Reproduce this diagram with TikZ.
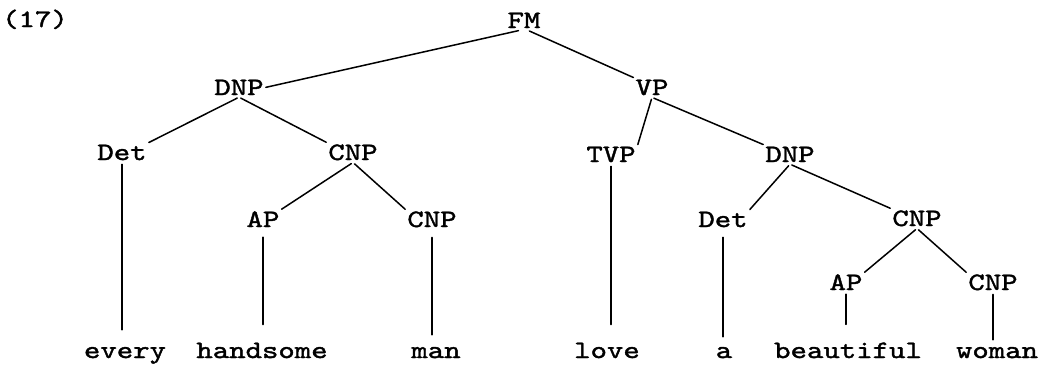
\documentclass[tikz,border=0pt]{standalone}
\usepackage{fontspec}
\newfontfamily\treefont{lmmono10-regular.otf}[FakeStretch=1.25,FakeBold=1.6]
\begin{document}
\begin{tikzpicture}[x=1pt,y=-1pt,
  lab/.style={font=\treefont\fontsize{25}{30}\selectfont, inner sep=2pt, anchor=base},
  edge/.style={line width=1.5pt, line cap=round, shorten <=2pt},
]
\useasboundingbox (0,0) rectangle (1041,367);
% labels
\node[lab] (n17) at (35,27) {(17)};
\node[lab] (FM) at (524,28) {FM};
\node[lab] (DNPa) at (239,95) {DNP};
\node[lab] (VP) at (652,95) {VP};
\node[lab] (Deta) at (122,160) {Det};
\node[lab] (CNPa) at (353,160) {CNP};
\node[lab] (TVP) at (611,162) {TVP};
\node[lab] (DNPb) at (790,162) {DNP};
\node[lab] (APa) at (263,227) {AP};
\node[lab] (CNPb) at (432,227) {CNP};
\node[lab] (Detb) at (723,227) {Det};
\node[lab] (CNPc) at (917,226) {CNP};
\node[lab] (APb) at (846,290) {AP};
\node[lab] (CNPd) at (993,290) {CNP};
% leaves
\node[lab] (every) at (125,358) {every};
\node[lab] (handsome) at (262,358) {handsome};
\node[lab] (man) at (436,358) {man};
\node[lab] (love) at (607,358) {love};
\node[lab] (a) at (724,358) {a};
\node[lab] (beautiful) at (848,358) {beautiful};
\node[lab] (woman) at (997,358) {woman};
% branches
\draw[edge] (FM.250) -- (DNPa.east);
\draw[edge] (FM.290) -- (VP.north west);
\draw[edge] (DNPa.south) -- (Deta.north east);
\draw[edge] (DNPa.south) -- (CNPa.north west);
\draw[edge] (VP.south) -- (TVP.north east);
\draw[edge] (VP.south) -- (DNPb.north west);
\draw[edge] (CNPa.south) -- (APa.north east);
\draw[edge] (CNPa.south) -- (CNPb.north west);
\draw[edge] (DNPb.south) -- (Detb.north east);
\draw[edge] (DNPb.south) -- (CNPc.north west);
\draw[edge] (CNPc.south) -- (APb.north east);
\draw[edge] (CNPc.south) -- (CNPd.north west);
% stems to words
\draw[edge, shorten >=15pt] (Deta.south) -- (Deta.south |- every.north);
\draw[edge, shorten <=8pt, shorten >=16pt] (APa.south) -- (APa.south |- handsome.north);
\draw[edge, shorten <=8pt, shorten >=10pt] (CNPb.south) -- (CNPb.south |- man.north);
\draw[edge, shorten >=16pt] (TVP.south) -- (TVP.south |- love.north);
\draw[edge, shorten <=8pt, shorten >=8pt] (Detb.south) -- (Detb.south |- a.north);
\draw[edge, shorten >=16pt] (APb.south) -- (APb.south |- beautiful.north);
\draw[edge, shorten >=5pt] (CNPd.south) -- (CNPd.south |- woman.north);
\end{tikzpicture}
\end{document}
